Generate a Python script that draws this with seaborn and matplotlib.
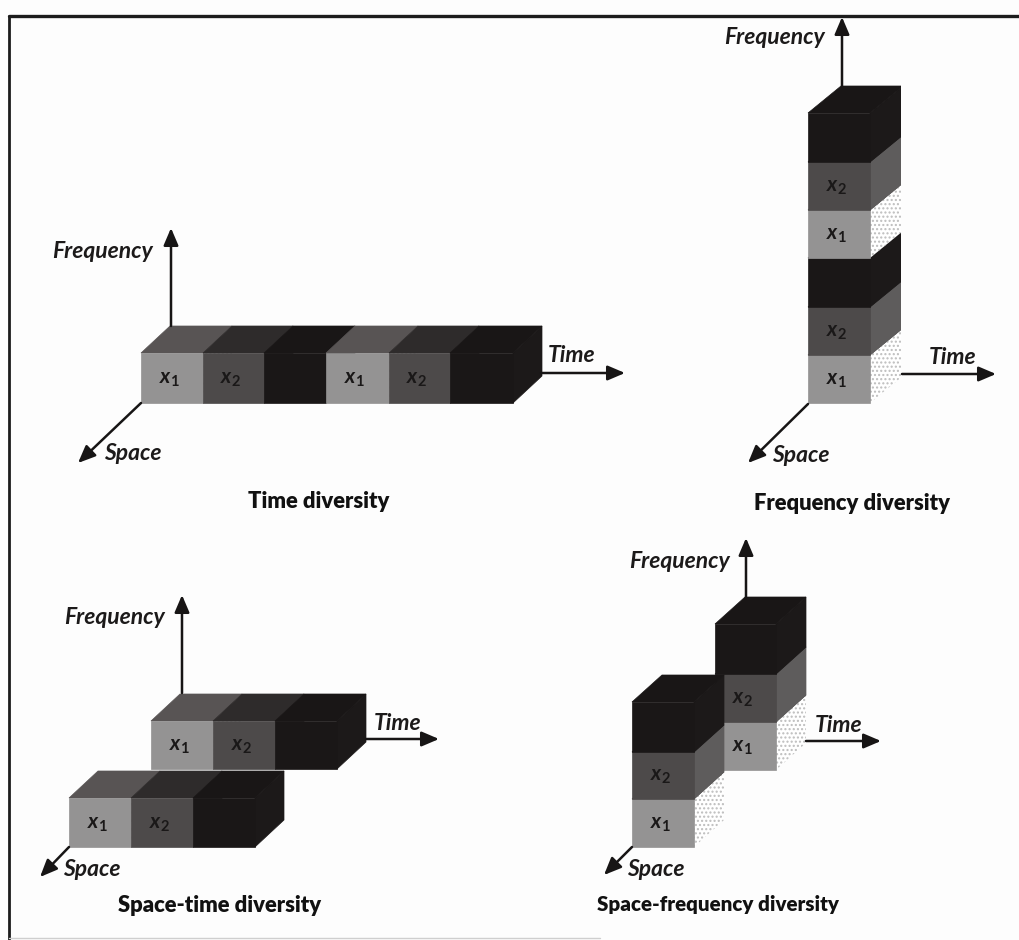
import matplotlib
matplotlib.use("Agg")
import matplotlib.pyplot as plt
from matplotlib.patches import Polygon, Rectangle
import seaborn as sns

sns.set_theme(style="white")
plt.rcParams['font.family'] = ['Lato', 'DejaVu Sans']
plt.rcParams['mathtext.fontset'] = 'custom'
plt.rcParams['mathtext.it'] = 'Lato:italic:bold'
plt.rcParams['mathtext.rm'] = 'Lato:bold'
plt.rcParams['hatch.linewidth'] = 1.0

# symbol per block, "" is the unlabelled dark one
time_symbols = ["x1", "x2", "", "x1", "x2", ""]
row_symbols = ["x1", "x2", ""]
stack_symbols = ["x1", "x2", "", "x1", "x2", ""]

# panel 1, time diversity: one row
time_edges = [141, 203, 264, 326, 389, 450, 513]
time_y = [403, 353]
time_depth = [29, -27]

# panel 2, frequency diversity: one column
freq_x = [808, 870]
freq_edges = [403, 355, 307, 258, 210, 162, 113]
freq_depth = [33, -27]
freq_clip = 901

# panel 3, space-time diversity: two rows
st_back_edges = [151, 213, 275, 337]
st_back_y = [769, 721]
st_front_edges = [69, 131, 193, 255]
st_front_y = [847, 798]
st_depth = [29, -27]

# panel 4, space-frequency diversity: two columns
sf_back_x = [715, 776]
sf_back_edges = [770, 722, 674, 624]
sf_front_x = [632, 694]
sf_front_edges = [847, 799, 752, 702]
sf_depth = [30, -27]

# axis lines: start, end
axis_lines = [
    [(171, 326), (171, 228)], [(541, 373), (625, 373)], [(141, 403), (78, 463)],
    [(842, 86), (842, 17)], [(902, 374), (996, 374)], [(808, 404), (748, 463)],
    [(182, 693), (182, 595)], [(366, 739), (439, 739)], [(69, 847), (40, 877)],
    [(746, 598), (746, 538)], [(806, 741), (881, 741)], [(632, 847), (604, 875)],
]
axis_names = [
    ("Frequency", 103, 252), ("Time", 572, 356), ("Space", 133, 454),
    ("Frequency", 775, 38), ("Time", 953, 357), ("Space", 801, 456),
    ("Frequency", 115, 618), ("Time", 398, 723), ("Space", 92, 869),
    ("Frequency", 680, 561), ("Time", 839, 725), ("Space", 656, 870),
]
captions = [
    ("Time diversity", 319, 502, 15.8), ("Frequency diversity", 852, 504, 15.8),
    ("Space-time diversity", 220, 906, 15.8), ("Space-frequency diversity", 718, 905, 14.8),
]

front_cols = dict(zip(["x1", "x2", ""], sns.color_palette(["#949393", "#4d4a4a", "#1a1717"])))
top_cols = dict(zip(["x1", "x2", ""], sns.color_palette(["#585454", "#2e2b2b", "#191616"])))
side_cols = dict(zip(["x1", "x2", ""], sns.color_palette(["#ffffff", "#5e5c5c", "#1c1919"])))
ink = "#171515"

fig = plt.figure(figsize=(10.2, 9.4), dpi=100, facecolor="#fdfdfd")
ax = fig.add_axes([0, 0, 1, 1])
ax.set_xlim(0, 1020)
ax.set_ylim(940, 0)
ax.axis("off")


def face(points, color, clip=None, stipple=False):
    if stipple:
        p = Polygon(points, facecolor=color, edgecolor="#bdbdbd", hatch="....", linewidth=0)
    else:
        p = Polygon(points, facecolor=color, edgecolor=color, linewidth=0.5)
    ax.add_patch(p)
    if clip is not None:
        p.set_clip_path(Rectangle((0, 0), clip, 940, transform=ax.transData))


def block(x0, x1, y0, y1, depth, sym, clip=None):
    dx, dy = depth
    face([(x1, y0), (x1 + dx, y0 + dy), (x1 + dx, y1 + dy), (x1, y1)], side_cols[sym], clip, stipple=sym == "x1")
    face([(x0, y1), (x0 + dx, y1 + dy), (x1 + dx, y1 + dy), (x1, y1)], top_cols[sym], clip)
    face([(x0, y0), (x1, y0), (x1, y1), (x0, y1)], front_cols[sym])
    if sym:
        ax.text((x0 + x1) / 2 - 3, (y0 + y1) / 2 + 1, "$\\mathit{x}_{%s}$" % sym[1], color="#1a1818",
                fontsize=15, ha="center", va="center")


def row(edges, ys, depth, symbols):
    for i, sym in enumerate(symbols):
        block(edges[i], edges[i + 1], ys[0], ys[1], depth, sym)


def column(xs, edges, depth, symbols, clip=None):
    for i, sym in enumerate(symbols):
        block(xs[0], xs[1], edges[i], edges[i + 1], depth, sym, clip)


row(time_edges, time_y, time_depth, time_symbols)
column(freq_x, freq_edges, freq_depth, stack_symbols, freq_clip)
row(st_back_edges, st_back_y, st_depth, row_symbols)
row(st_front_edges, st_front_y, st_depth, row_symbols)
column(sf_back_x, sf_back_edges, sf_depth, row_symbols)
column(sf_front_x, sf_front_edges, sf_depth, row_symbols)

# the frame
sns.lineplot(x=[9, 1020], y=[16, 16], ax=ax, color="#1c1c1c", linewidth=2.4)
sns.lineplot(x=[9, 9], y=[16, 940], ax=ax, color="#1c1c1c", linewidth=2, estimator=None, sort=False)
sns.lineplot(x=[9, 600], y=[938, 938], ax=ax, color="#cfcfcf", linewidth=1)

for start, end in axis_lines:
    ax.annotate("", xy=end, xytext=start,
                arrowprops=dict(arrowstyle="-|>,head_length=0.75,head_width=0.32", color=ink, lw=1.8,
                                shrinkA=0, shrinkB=0, mutation_scale=14))

for name, x, y in axis_names:
    ax.text(x, y, name, fontsize=16.5, fontstyle="italic", fontweight="bold", color="#1c1a1a", ha="center", va="center")

for name, x, y, size in captions:
    ax.text(x, y, name, fontsize=size, fontweight="heavy", color="#111111", ha="center", va="center")

fig.savefig("out.png", dpi=100, facecolor=fig.get_facecolor())
